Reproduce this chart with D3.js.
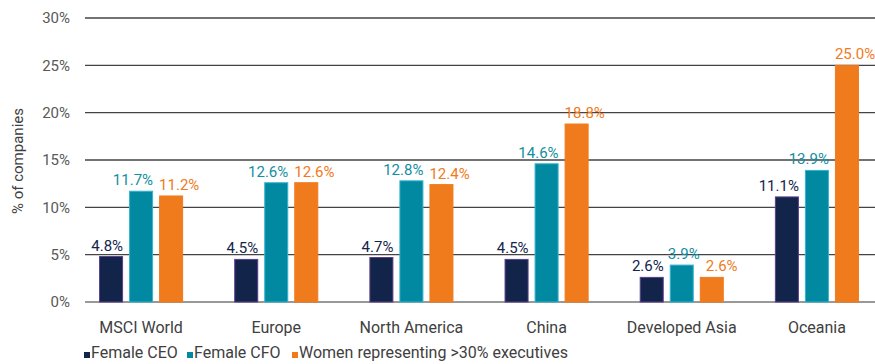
<!DOCTYPE html>
<html><head><meta charset="utf-8">
<script src="https://cdn.jsdelivr.net/npm/d3@7"></script>
<style>body{margin:0;background:#fff;}svg{display:block;font-family:Roboto,"Noto Sans",sans-serif;}</style>
</head><body><svg id="c" width="875" height="364"></svg>
<script>
const categories = ["MSCI World","Europe","North America","China","Developed Asia","Oceania"];
const seriesNames = ["Female CEO","Female CFO","Women representing >30% executives"];
const femaleCEO = [4.8,4.5,4.7,4.5,2.6,11.1];
const femaleCFO = [11.7,12.6,12.8,14.6,3.9,13.9];
const women30 = [11.2,12.6,12.4,18.8,2.6,25.0];
const yTicks = [0,5,10,15,20,25,30];
const colors = ["#13244a","#0089a0","#f07b1d"];
const strokes = ["#5b3f8c","#36b3cf","#f07b1d"];
const labelColors = ["#13244a","#138ea2","#f07b1d"];

const svg = d3.select("#c");
const y = d3.scaleLinear().domain([0,30]).range([302,18]);
const x = d3.scaleBand().domain(categories).range([73.5,884.5]).paddingInner(0.378).paddingOuter(0.189);
const xs = d3.scaleBand().domain(seriesNames).range([0,x.bandwidth()]).paddingInner(0.2);

svg.append("g").selectAll("line").data(yTicks).join("line")
  .attr("x1",85).attr("x2",875).attr("y1",d=>y(d)).attr("y2",d=>y(d))
  .attr("stroke",d=>d===0?"#999":"#444").attr("stroke-width",d=>d===0?2:1.3);

const yAxis = d3.axisLeft(y).tickValues(yTicks).tickFormat(d=>d+"%").tickSize(0).tickPadding(0);
const ya = svg.append("g").attr("transform","translate(70,0)").call(yAxis);
ya.select(".domain").remove();
ya.selectAll("text").attr("font-size",15).attr("fill","#595959").attr("font-family","Roboto");

const xAxis = d3.axisBottom(x).tickSize(0).tickPadding(0);
const xa = svg.append("g").attr("transform","translate(0,333)").call(xAxis);
xa.select(".domain").remove();
xa.selectAll("text").attr("font-size",16).attr("fill","#404040").attr("font-family","Roboto").attr("dy","0");

svg.append("text").attr("transform","translate(23,161) rotate(-90)").attr("text-anchor","middle")
  .attr("font-size",15).attr("fill","#404040").text("% of companies");

// label placement: "end" = right edge of bar, "start" = left edge, "middle" = centred
const labelAnchor = [
  ["end","end","end","end","end","end"],
  ["end","end","end","end","middle","end"],
  ["start","start","start","start","start","start"]
];
const series = [femaleCEO,femaleCFO,women30];
series.forEach((vals,si)=>{
  const g = svg.append("g");
  const bx = c => x(c)+xs(seriesNames[si]);
  g.selectAll("rect").data(categories).join("rect")
    .attr("x",c=>bx(c)+0.5)
    .attr("width",xs.bandwidth()-1)
    .attr("y",(c,i)=>y(vals[i]))
    .attr("height",(c,i)=>y(0)-y(vals[i]))
    .attr("fill",colors[si]).attr("stroke",strokes[si]).attr("stroke-width",1);
  g.selectAll("text").data(categories).join("text")
    .attr("x",(c,i)=>{
      const a = labelAnchor[si][i];
      if (a==="end") return bx(c)+xs.bandwidth();
      if (a==="start") return bx(c) + (vals[i] < 5 ? 6 : 0);
      return bx(c)+xs.bandwidth()/2+2;
    })
    .attr("y",(c,i)=>y(vals[i])-6)
    .attr("text-anchor",(c,i)=>labelAnchor[si][i])
    .attr("font-size",15).attr("fill",labelColors[si])
    .text((c,i)=>vals[i].toFixed(1)+"%");
});

const legX = [84,187,292];
const lg = svg.append("g");
seriesNames.forEach((n,i)=>{
  lg.append("rect").attr("x",legX[i]).attr("y",352).attr("width",6).attr("height",6).attr("fill",colors[i]);
  lg.append("text").attr("x",legX[i]+7).attr("y",358).attr("font-size",16).attr("fill","#404040").text(n);
});
</script></body></html>
